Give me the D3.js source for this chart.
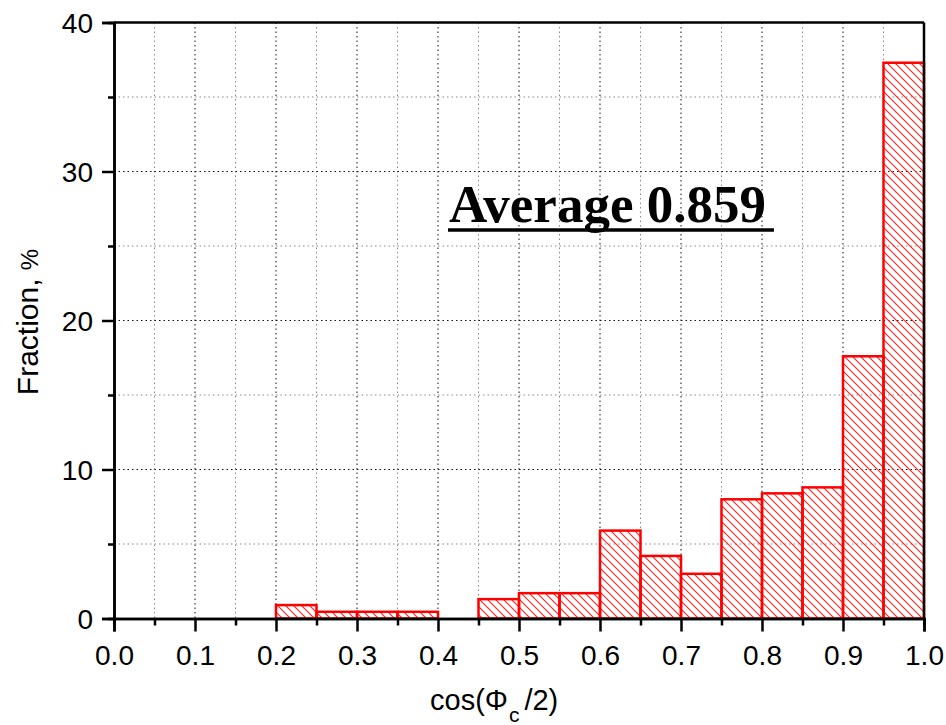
<!DOCTYPE html>
<html>
<head>
<meta charset="utf-8">
<script src="https://cdn.jsdelivr.net/npm/d3@7"></script>
<style>
  html, body { margin: 0; padding: 0; background: #fff; }
  svg { display: block; }
</style>
</head>
<body>
<svg id="chart" width="946" height="725"></svg>
<script>
// Histogram bins (lower edges) of cos(Φc/2), bin width 0.05
const binStarts = [0.00, 0.05, 0.10, 0.15, 0.20, 0.25, 0.30, 0.35, 0.40, 0.45,
                   0.50, 0.55, 0.60, 0.65, 0.70, 0.75, 0.80, 0.85, 0.90, 0.95];
const binWidth = 0.05;
// Fraction of cases in each bin, %
const fractions = [0, 0, 0, 0, 0.9, 0.45, 0.45, 0.45, 0, 1.3,
                   1.7, 1.7, 5.9, 4.2, 3.0, 8.0, 8.4, 8.8, 17.6, 37.3];
const xTicks = [0.0, 0.1, 0.2, 0.3, 0.4, 0.5, 0.6, 0.7, 0.8, 0.9, 1.0];
const xMinorTicks = [0.05, 0.15, 0.25, 0.35, 0.45, 0.55, 0.65, 0.75, 0.85, 0.95];
const yTicks = [0, 10, 20, 30, 40];
const yMinorTicks = [5, 15, 25, 35];
const averageText = "Average 0.859";

const svg = d3.select("#chart");
const plotLeft = 114, plotRight = 924, plotTop = 22.5, plotBottom = 618.5;

const x = d3.scaleLinear().domain([0, 1]).range([plotLeft, plotRight]);
const y = d3.scaleLinear().domain([0, 40]).range([plotBottom, plotTop]);

// Diagonal hatch fill
const defs = svg.append("defs");
const pat = defs.append("pattern")
  .attr("id", "hatch")
  .attr("patternUnits", "userSpaceOnUse")
  .attr("width", 8).attr("height", 8);
pat.append("path")
  .attr("d", "M-2,-2 L10,10 M-2,6 L2,10 M6,-2 L10,2")
  .attr("stroke", "#ff2020")
  .attr("stroke-width", 1.1)
  .attr("fill", "none");

// Grid: major lines dark dotted, minor lines grey dotted
const grid = svg.append("g");
xMinorTicks.forEach(v => grid.append("line")
  .attr("x1", x(v)).attr("x2", x(v)).attr("y1", plotTop).attr("y2", plotBottom)
  .attr("stroke", "#888").attr("stroke-width", 1).attr("stroke-dasharray", "1.5,3"));
xTicks.slice(1, -1).forEach(v => grid.append("line")
  .attr("x1", x(v)).attr("x2", x(v)).attr("y1", plotTop).attr("y2", plotBottom)
  .attr("stroke", "#111").attr("stroke-width", 1).attr("stroke-dasharray", "1.5,3"));
yMinorTicks.forEach(v => grid.append("line")
  .attr("x1", plotLeft).attr("x2", plotRight).attr("y1", y(v)).attr("y2", y(v))
  .attr("stroke", "#888").attr("stroke-width", 1).attr("stroke-dasharray", "1.5,3"));
yTicks.slice(1, -1).forEach(v => grid.append("line")
  .attr("x1", plotLeft).attr("x2", plotRight).attr("y1", y(v)).attr("y2", y(v))
  .attr("stroke", "#111").attr("stroke-width", 1).attr("stroke-dasharray", "1.5,3"));

// Bars
const bins = binStarts.map((b, i) => ({ x0: b, x1: b + binWidth, v: fractions[i] }))
  .filter(d => d.v > 0);
svg.append("g").selectAll("rect")
  .data(bins)
  .join("rect")
  .attr("x", d => x(d.x0))
  .attr("y", d => y(d.v))
  .attr("width", d => x(d.x1) - x(d.x0))
  .attr("height", d => y(0) - y(d.v))
  .attr("fill", "url(#hatch)")
  .attr("stroke", "#ff0000")
  .attr("stroke-width", 2.5);

// Frame on top and right
svg.append("line").attr("x1", plotLeft).attr("x2", plotRight).attr("y1", plotTop).attr("y2", plotTop)
  .attr("stroke", "#000").attr("stroke-width", 2.5);
svg.append("line").attr("x1", plotRight).attr("x2", plotRight).attr("y1", plotTop).attr("y2", plotBottom)
  .attr("stroke", "#000").attr("stroke-width", 2.5);

// Axes
const fontFam = "'Liberation Sans', Arial, sans-serif";
const xAxis = svg.append("g").attr("transform", `translate(0,${plotBottom})`)
  .call(d3.axisBottom(x).tickValues(xTicks).tickFormat(d3.format(".1f")).tickSize(13));
const xMinor = svg.append("g").attr("transform", `translate(0,${plotBottom})`)
  .call(d3.axisBottom(x).tickValues(xMinorTicks).tickFormat("").tickSize(7));
const yAxis = svg.append("g").attr("transform", `translate(${plotLeft},0)`)
  .call(d3.axisLeft(y).tickValues(yTicks).tickFormat(d3.format("d")).tickSize(12));
const yMinor = svg.append("g").attr("transform", `translate(${plotLeft},0)`)
  .call(d3.axisLeft(y).tickValues(yMinorTicks).tickFormat("").tickSize(6));

[xAxis, xMinor, yAxis, yMinor].forEach(g => {
  g.select(".domain").attr("stroke", "#000").attr("stroke-width", 2.5);
  g.selectAll(".tick line").attr("stroke", "#000").attr("stroke-width", 2.5);
  g.selectAll(".tick text").attr("fill", "#000")
    .style("font-family", fontFam).style("font-size", "28px");
});
xAxis.selectAll(".tick text").attr("y", 46.5).attr("dy", 0);
yAxis.selectAll(".tick text").attr("x", -21).attr("dy", 0).attr("y", 10);

// Axis titles
const xt = svg.append("text")
  .attr("x", 430).attr("y", 710)
  .style("font-family", fontFam).style("font-size", "29px");
xt.append("tspan").text("cos(Φ");
xt.append("tspan").text("c").style("font-size", "21px").attr("dy", 12).attr("dx", 1);
xt.append("tspan").text("/2)").attr("dy", -12).attr("dx", 5);

const yt = svg.append("text")
  .attr("transform", `translate(38,322) rotate(-90)`)
  .attr("text-anchor", "middle")
  .style("font-family", fontFam).style("font-size", "30px");
yt.append("tspan").text("Fraction, ");
yt.append("tspan").text("%").style("font-size", "24px");

// Annotation
const ann = svg.append("text")
  .attr("x", 449).attr("y", 222)
  .style("font-family", "'Liberation Serif', 'Times New Roman', serif")
  .style("font-weight", "bold").style("font-size", "53px")
  .attr("fill", "#000")
  .text(averageText);
const bb = ann.node().getBBox();
svg.append("line")
  .attr("x1", bb.x - 1).attr("x2", bb.x + bb.width + 8)
  .attr("y1", 230).attr("y2", 230)
  .attr("stroke", "#000").attr("stroke-width", 3.5);
</script>
</body>
</html>
